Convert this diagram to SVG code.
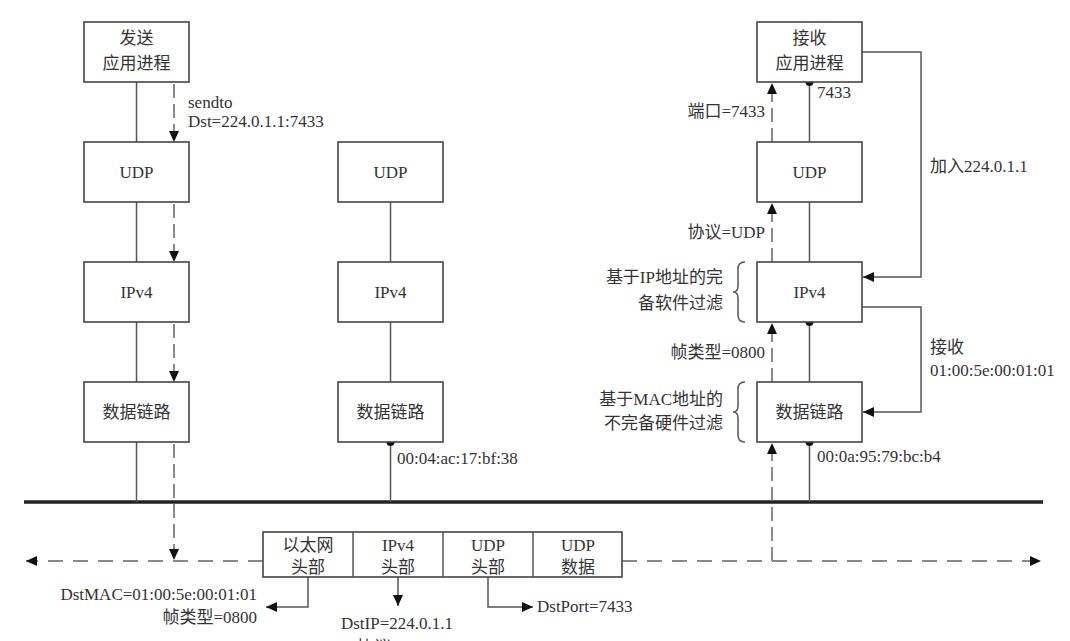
<svg xmlns="http://www.w3.org/2000/svg" width="1070" height="641" viewBox="0 0 1070 641">
<style>
text{font-family:"Liberation Serif","Noto Sans CJK SC",serif;font-size:17px;fill:#333}
.c{text-anchor:middle}
.r{text-anchor:end}
.box{fill:#fff;stroke:#444;stroke-width:1.6}
.ln{fill:none;stroke:#555;stroke-width:1.5}
.dsh{fill:none;stroke:#666;stroke-width:1.5;stroke-dasharray:14 6}
.hd{fill:none;stroke:#888;stroke-width:2;stroke-dasharray:15 10}
.bus{fill:none;stroke:#222;stroke-width:3.5}
.dot{fill:#111}
</style>
<defs>
<marker id="ah" markerUnits="userSpaceOnUse" markerWidth="12" markerHeight="10" refX="11" refY="5" orient="auto">
<path d="M0,0 L11,5 L0,10 z" fill="#111"/>
</marker>
</defs>
<g id="connectors">
<line class="bus" x1="24" y1="502" x2="1043" y2="502"/>
<!-- left column -->
<line class="ln" x1="136.5" y1="82" x2="136.5" y2="142"/>
<line class="ln" x1="136.5" y1="202" x2="136.5" y2="262"/>
<line class="ln" x1="136.5" y1="322" x2="136.5" y2="382"/>
<line class="ln" x1="136.5" y1="442" x2="136.5" y2="502"/>
<line class="dsh" x1="174" y1="84" x2="174" y2="142" marker-end="url(#ah)"/>
<line class="dsh" x1="174" y1="204" x2="174" y2="262" marker-end="url(#ah)"/>
<line class="dsh" x1="174" y1="324" x2="174" y2="382" marker-end="url(#ah)"/>
<line class="dsh" x1="174" y1="444" x2="174" y2="560" marker-end="url(#ah)"/>
<!-- middle column -->
<line class="ln" x1="390.5" y1="202" x2="390.5" y2="262"/>
<line class="ln" x1="390.5" y1="322" x2="390.5" y2="382"/>
<line class="ln" x1="390.5" y1="442" x2="390.5" y2="502"/>
<circle class="dot" cx="390.5" cy="442" r="4"/>
<!-- right column -->
<line class="ln" x1="809.5" y1="82" x2="809.5" y2="142"/>
<line class="ln" x1="809.5" y1="202" x2="809.5" y2="262"/>
<line class="ln" x1="809.5" y1="322" x2="809.5" y2="382"/>
<line class="ln" x1="809.5" y1="442" x2="809.5" y2="502"/>
<circle class="dot" cx="809.5" cy="82" r="4"/>
<circle class="dot" cx="809.5" cy="322" r="4"/>
<circle class="dot" cx="809.5" cy="442" r="4"/>
<line class="dsh" x1="772" y1="142" x2="772" y2="83" marker-end="url(#ah)"/>
<line class="dsh" x1="772" y1="262" x2="772" y2="203" marker-end="url(#ah)"/>
<line class="dsh" x1="772" y1="382" x2="772" y2="323" marker-end="url(#ah)"/>
<line class="dsh" x1="772" y1="561" x2="772" y2="443" marker-end="url(#ah)"/>
<polyline class="ln" points="862,52 921,52 921,277 863,277" marker-end="url(#ah)"/>
<polyline class="ln" points="862,307 921,307 921,412 863,412" marker-end="url(#ah)"/>
<!-- braces -->
<path class="ln" d="M745,262 Q738,262 738,269 L738,286 Q738,292 733,292 Q738,292 738,298 L738,315 Q738,322 745,322"/>
<path class="ln" d="M745,382 Q738,382 738,389 L738,406 Q738,412 733,412 Q738,412 738,418 L738,435 Q738,442 745,442"/>
<!-- frame line -->
<line class="hd" x1="263" y1="561" x2="26" y2="561" marker-end="url(#ah)"/>
<line class="hd" x1="622" y1="561" x2="1041" y2="561" marker-end="url(#ah)"/>
<polyline class="ln" points="308,577 308,607 266,607" marker-end="url(#ah)"/>
<line class="ln" x1="398" y1="577" x2="398" y2="606" marker-end="url(#ah)"/>
<polyline class="ln" points="488,577 488,607 533,607" marker-end="url(#ah)"/>
</g>
<g id="send-app"><rect class="box" x="84" y="22" width="105" height="60"/><text class="c" x="136.5" y="44">发送</text><text class="c" x="136.5" y="69">应用进程</text></g>
<g id="send-udp"><rect class="box" x="84" y="142" width="105" height="60"/><text class="c" x="136.5" y="178">UDP</text></g>
<g id="send-ip"><rect class="box" x="84" y="262" width="105" height="60"/><text class="c" x="136.5" y="298">IPv4</text></g>
<g id="send-dl"><rect class="box" x="84" y="382" width="105" height="60"/><text class="c" x="136.5" y="418">数据链路</text></g>
<g id="mid-udp"><rect class="box" x="338" y="142" width="105" height="60"/><text class="c" x="390.5" y="178">UDP</text></g>
<g id="mid-ip"><rect class="box" x="338" y="262" width="105" height="60"/><text class="c" x="390.5" y="298">IPv4</text></g>
<g id="mid-dl"><rect class="box" x="338" y="382" width="105" height="60"/><text class="c" x="390.5" y="418">数据链路</text></g>
<g id="recv-app"><rect class="box" x="757" y="22" width="105" height="60"/><text class="c" x="809.5" y="44">接收</text><text class="c" x="809.5" y="69">应用进程</text></g>
<g id="recv-udp"><rect class="box" x="757" y="142" width="105" height="60"/><text class="c" x="809.5" y="178">UDP</text></g>
<g id="recv-ip"><rect class="box" x="757" y="262" width="105" height="60"/><text class="c" x="809.5" y="298">IPv4</text></g>
<g id="recv-dl"><rect class="box" x="757" y="382" width="105" height="60"/><text class="c" x="809.5" y="418">数据链路</text></g>
<g id="frame">
<rect class="box" x="263" y="532" width="359" height="45"/>
<line class="ln" x1="353" y1="532" x2="353" y2="577"/>
<line class="ln" x1="443" y1="532" x2="443" y2="577"/>
<line class="ln" x1="533" y1="532" x2="533" y2="577"/>
<text class="c" x="308" y="551">以太网</text><text class="c" x="308" y="573">头部</text>
<text class="c" x="398" y="551">IPv4</text><text class="c" x="398" y="573">头部</text>
<text class="c" x="488" y="551">UDP</text><text class="c" x="488" y="573">头部</text>
<text class="c" x="578" y="551">UDP</text><text class="c" x="578" y="573">数据</text>
</g>
<g id="labels">
<text x="188" y="108">sendto</text>
<text x="188" y="127">Dst=224.0.1.1:7433</text>
<text x="397" y="464">00:04:ac:17:bf:38</text>
<text x="817" y="98">7433</text>
<text class="r" x="765" y="117">端口=7433</text>
<text class="r" x="765" y="238">协议=UDP</text>
<text x="930" y="172">加入224.0.1.1</text>
<text class="r" x="723" y="283">基于IP地址的完</text>
<text class="r" x="723" y="309">备软件过滤</text>
<text class="r" x="765" y="358">帧类型=0800</text>
<text x="930" y="353">接收</text>
<text x="930" y="376">01:00:5e:00:01:01</text>
<text class="r" x="723" y="405">基于MAC地址的</text>
<text class="r" x="723" y="429">不完备硬件过滤</text>
<text x="817" y="462">00:0a:95:79:bc:b4</text>
<text class="r" x="257" y="600">DstMAC=01:00:5e:00:01:01</text>
<text class="r" x="257" y="623">帧类型=0800</text>
<text class="c" x="397" y="629">DstIP=224.0.1.1</text>
<text x="537" y="612">DstPort=7433</text>
<text class="c" x="374" y="653">协议</text>
</g>
</svg>
